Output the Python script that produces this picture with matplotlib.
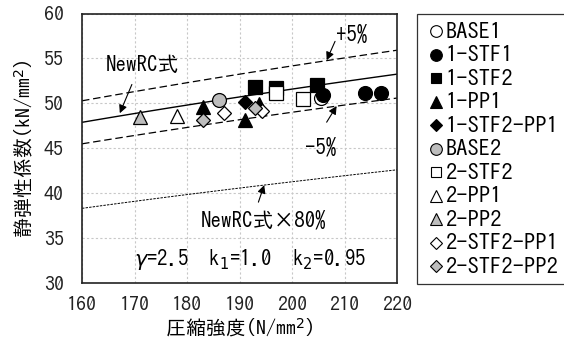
import numpy as np
import matplotlib
matplotlib.use("Agg")
import matplotlib.pyplot as plt
from matplotlib.lines import Line2D

plt.rcParams['font.family'] = ['IPAGothic', 'Noto Sans CJK JP', 'DejaVu Sans']
plt.rcParams['mathtext.fontset'] = 'dejavusans'
FS = 14.4
FS_NOTE = 15
FS_LEG = 16.2

# NewRC formula parameters
gamma = 2.5
k1 = 1.0
k2 = 0.95

# measured points: compressive strength (N/mm2) vs Young's modulus (kN/mm2)
series = ["BASE1", "1-STF1", "1-STF2", "1-PP1", "1-STF2-PP1", "BASE2",
          "2-STF2", "2-PP1", "2-PP2", "2-STF2-PP1", "2-STF2-PP2"]
base1_x = [205.6]
base1_y = [50.6]
stf1_x = [205.9, 213.9, 216.9]
stf1_y = [50.9, 51.1, 51.1]
stf2_x = [193.0, 197.0, 204.8]
stf2_y = [51.8, 51.7, 52.0]
pp1_x = [183.0, 191.0, 193.8]
pp1_y = [49.6, 48.2, 49.9]
stf2pp1_x = [191.0]
stf2pp1_y = [50.1]
base2_x = [186.0]
base2_y = [50.4]
s2_stf2_x = [197.0, 202.0]
s2_stf2_y = [51.1, 50.5]
s2_pp1_x = [178.0]
s2_pp1_y = [48.6]
s2_pp2_x = [171.0]
s2_pp2_y = [48.5]
s2_stf2pp1_x = [187.0, 194.2]
s2_stf2pp1_y = [48.9, 49.2]
s2_stf2pp2_x = [183.0, 193.0]
s2_stf2pp2_y = [48.2, 49.5]

xs = [base1_x, stf1_x, stf2_x, pp1_x, stf2pp1_x, base2_x,
      s2_stf2_x, s2_pp1_x, s2_pp2_x, s2_stf2pp1_x, s2_stf2pp2_x]
ys = [base1_y, stf1_y, stf2_y, pp1_y, stf2pp1_y, base2_y,
      s2_stf2_y, s2_pp1_y, s2_pp2_y, s2_stf2pp1_y, s2_stf2pp2_y]

GRAY = '#bdbdbd'
markers = ['o', 'o', 's', '^', 'D', 'o', 's', '^', '^', 'D', 'D']
faces = ['white', 'black', 'black', 'black', 'black', GRAY,
         'white', 'white', GRAY, 'white', GRAY]
sizes = [10, 10, 10, 10, 7.5, 10, 10, 10, 10, 7.5, 7.5]
leg_sizes = [8.4, 8.4, 7.5, 8, 5.8, 8.4, 7.5, 8, 8, 5.8, 5.8]

fig = plt.figure(figsize=(5.64, 3.52), dpi=100)
ax = fig.add_axes([82 / 564, 1 - 283 / 352, (397 - 82) / 564, (283 - 13.5) / 352])

fc = np.linspace(160, 220, 100)
e_rc = k1 * k2 * 33.5 * (gamma / 2.4) ** 2 * (fc / 60) ** (1 / 3)
ax.plot(fc, e_rc, color='black', lw=1.0, zorder=2)
ax.plot(fc, e_rc * 1.05, color='black', lw=0.9, dashes=(6, 3), zorder=2)
ax.plot(fc, e_rc * 0.95, color='black', lw=0.9, dashes=(6, 3), zorder=2)
ax.plot(fc, e_rc * 0.80, color='black', lw=0.7, dashes=(2.5, 1.2), zorder=2)

for x, y, m, f, s in zip(xs, ys, markers, faces, sizes):
    ax.plot(x, y, linestyle='none', marker=m, markersize=s, markerfacecolor=f,
            markeredgecolor='black', markeredgewidth=0.9, zorder=3)

arrow = dict(arrowstyle='-|>', color='black', lw=0.8, mutation_scale=12,
             shrinkA=0, shrinkB=0)
ax.text(171.5, 54.3, 'NewRC式', fontsize=FS_NOTE, ha='center', va='center')
ax.annotate('', xy=(167.2, 48.9), xytext=(169.5, 52.1), arrowprops=arrow)
ax.text(211.4, 57.8, '+5%', fontsize=FS_NOTE, ha='center', va='center')
ax.annotate('', xy=(206.6, 54.8), xytext=(208.2, 56.9), arrowprops=arrow)
ax.text(205.4, 45.2, '-5%', fontsize=FS_NOTE, ha='center', va='center')
ax.annotate('', xy=(208.5, 49.7), xytext=(206.6, 47.9), arrowprops=arrow)
ax.text(194.6, 37.0, 'NewRC式×80%', fontsize=FS_NOTE, ha='center', va='center')
ax.annotate('', xy=(194.7, 40.9), xytext=(193.6, 39.0), arrowprops=arrow)
ax.text(170.0, 32.6, r'$\gamma$=2.5  k$_1$=1.0  k$_2$=0.95', fontsize=FS_NOTE,
        ha='left', va='center')

ax.set_xlim(160, 220)
ax.set_ylim(30, 60)
ax.set_xticks(range(160, 221, 10))
ax.set_yticks(range(30, 61, 5))
ax.tick_params(length=0, labelsize=FS, colors='#222222')
ax.tick_params(axis='y', pad=13)
ax.tick_params(axis='x', pad=9)
ax.grid(True, color='#c8c8c8', lw=0.8, dashes=(2, 2))
ax.set_axisbelow(True)
for sp in ax.spines.values():
    sp.set_linewidth(1.2)
    sp.set_color('#222222')

ax.set_xlabel('圧縮強度(N/mm$^2$)', fontsize=FS, labelpad=3)
ax.set_ylabel('静弾性係数(kN/mm$^2$)', fontsize=FS, labelpad=6)

handles = [Line2D([], [], linestyle='none', marker=m, markersize=s, markerfacecolor=f,
                  markeredgecolor='black', markeredgewidth=0.8)
           for m, f, s in zip(markers, faces, leg_sizes)]
leg = fig.legend(handles, series, loc='upper left',
                 bbox_to_anchor=(417 / 564, 1 - 14 / 352), borderaxespad=0,
                 prop={'size': FS_LEG}, handlelength=1.0,
                 handletextpad=-0.1, borderpad=0.35, labelspacing=0.2,
                 frameon=True, fancybox=False)
leg.get_frame().set_edgecolor('black')
leg.get_frame().set_linewidth(0.9)

fig.savefig('out.png', dpi=100)
